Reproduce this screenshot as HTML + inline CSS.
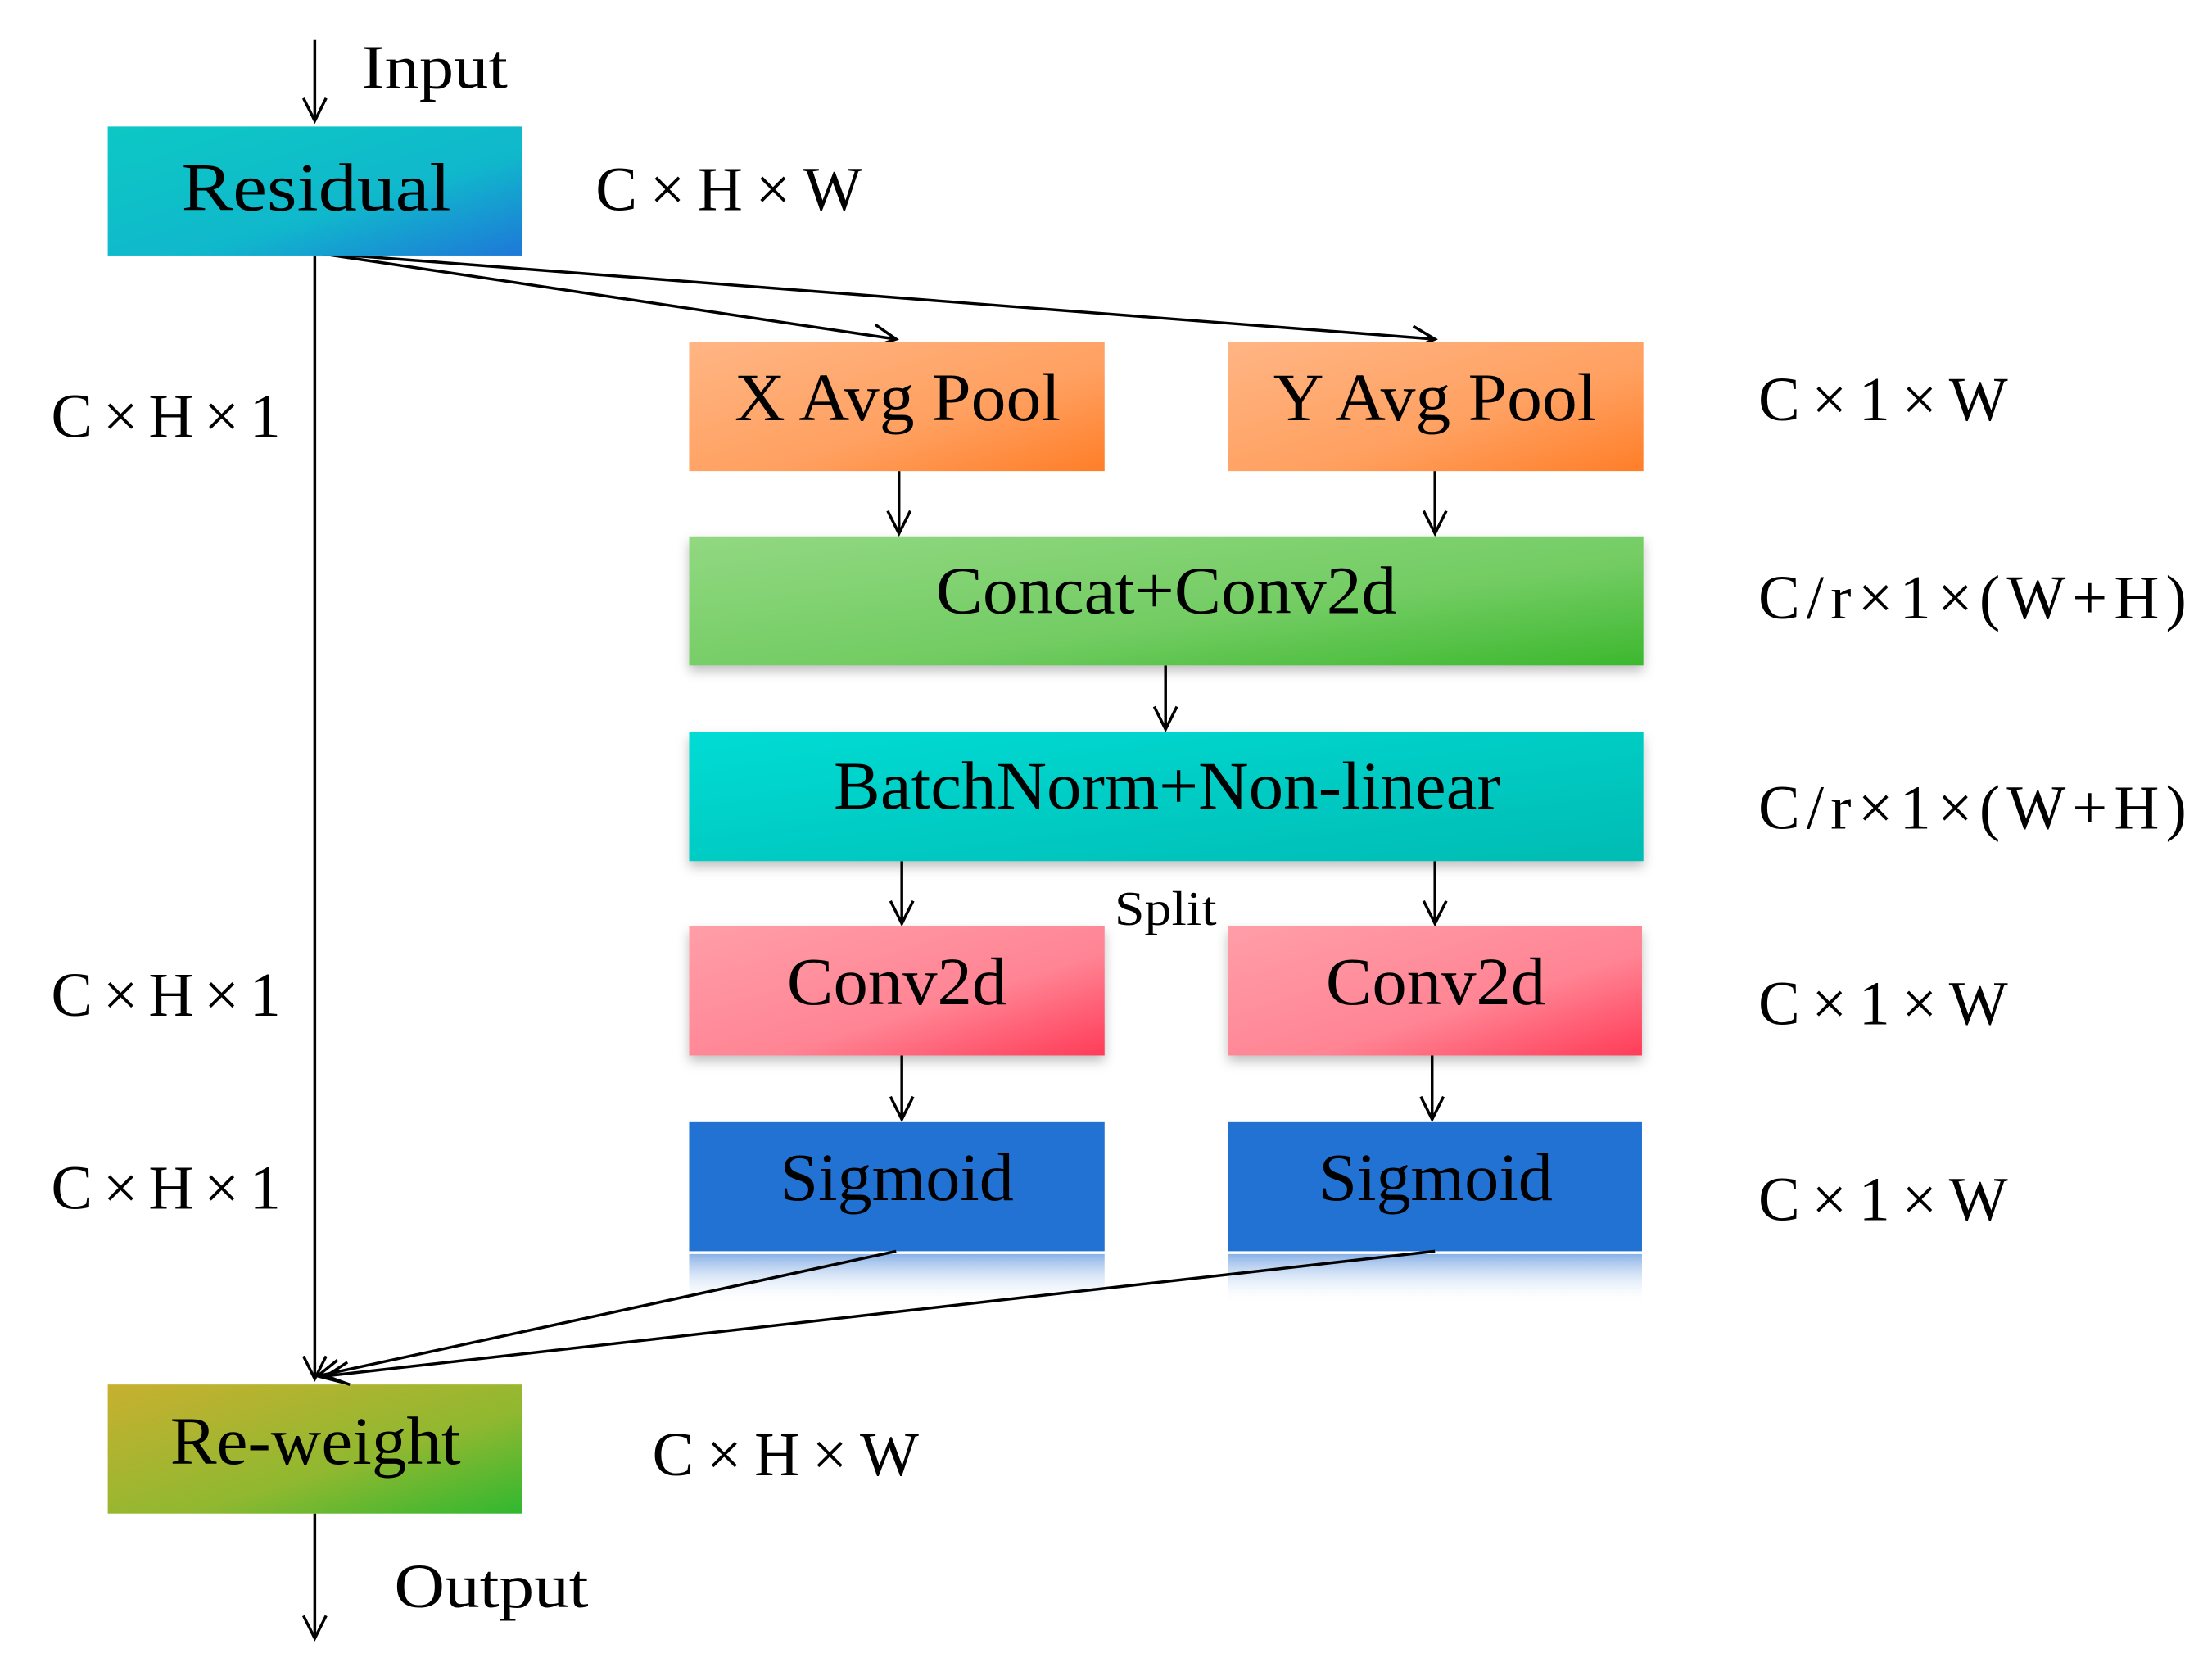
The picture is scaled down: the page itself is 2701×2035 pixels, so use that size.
<!DOCTYPE html>
<html><head><meta charset="utf-8"><style>
html,body{margin:0;padding:0;background:#fff;}
svg{display:block;}
text{font-family:"Liberation Serif",serif;fill:#000;}
</style></head><body>
<svg width="2701" height="2035" viewBox="0 0 1560 1175" xmlns="http://www.w3.org/2000/svg">
<defs>
<linearGradient id="gRes" x1="0" y1="0" x2="1" y2="1"><stop offset="0" stop-color="#0CC8C4"/><stop offset="0.6" stop-color="#10B8CC"/><stop offset="1" stop-color="#1E78D8"/></linearGradient>
<linearGradient id="gOr" x1="0" y1="0" x2="1" y2="1"><stop offset="0" stop-color="#FFB584"/><stop offset="0.6" stop-color="#FFA060"/><stop offset="1" stop-color="#FF7E28"/></linearGradient>
<linearGradient id="gGr" x1="0" y1="0" x2="1" y2="1"><stop offset="0" stop-color="#92D882"/><stop offset="0.6" stop-color="#72CC62"/><stop offset="1" stop-color="#3CB82E"/></linearGradient>
<linearGradient id="gCy" x1="0" y1="0" x2="1" y2="1"><stop offset="0" stop-color="#00DCD4"/><stop offset="1" stop-color="#00BCB4"/></linearGradient>
<linearGradient id="gPk" x1="0" y1="0" x2="1" y2="1"><stop offset="0" stop-color="#FF9EA8"/><stop offset="0.6" stop-color="#FF8494"/><stop offset="1" stop-color="#FF3C58"/></linearGradient>
<linearGradient id="gRw" x1="0" y1="0" x2="1" y2="1"><stop offset="0" stop-color="#C8B030"/><stop offset="0.6" stop-color="#90B830"/><stop offset="1" stop-color="#30B830"/></linearGradient>
<linearGradient id="gRef" x1="0" y1="0" x2="0" y2="1"><stop offset="0" stop-color="#6C9EE0" stop-opacity="0.8"/><stop offset="1" stop-color="#ffffff" stop-opacity="0"/></linearGradient>
<filter id="sh" x="-5%" y="-10%" width="110%" height="130%"><feDropShadow dx="0" dy="4" stdDeviation="4" flood-opacity="0.25"/></filter>
<marker id="ah" viewBox="0 0 20 20" refX="18" refY="10" markerWidth="20" markerHeight="20" markerUnits="userSpaceOnUse" orient="auto"><path d="M2 2 L18 10 L2 18" fill="none" stroke="#000" stroke-width="2"/></marker>
</defs>

<g stroke="#000" stroke-width="2" fill="none">
<line x1="222" y1="28" x2="222" y2="85" marker-end="url(#ah)"/>
<line x1="222" y1="180" x2="222" y2="972" marker-end="url(#ah)"/>
<line x1="222" y1="178" x2="632" y2="239" marker-end="url(#ah)"/>
<line x1="222" y1="178" x2="1012" y2="239" marker-end="url(#ah)"/>
<line x1="634" y1="332" x2="634" y2="376" marker-end="url(#ah)"/>
<line x1="1012" y1="332" x2="1012" y2="376" marker-end="url(#ah)"/>
<line x1="822" y1="469" x2="822" y2="514" marker-end="url(#ah)"/>
<line x1="636" y1="607" x2="636" y2="651" marker-end="url(#ah)"/>
<line x1="1012" y1="607" x2="1012" y2="651" marker-end="url(#ah)"/>
<line x1="636" y1="744" x2="636" y2="789" marker-end="url(#ah)"/>
<line x1="1010" y1="744" x2="1010" y2="789" marker-end="url(#ah)"/>
<line x1="222" y1="1067" x2="222" y2="1155" marker-end="url(#ah)"/>
</g>

<rect x="76" y="89" width="292" height="91" fill="url(#gRes)"/>
<rect x="486" y="241" width="293" height="91" fill="url(#gOr)"/>
<rect x="866" y="241" width="293" height="91" fill="url(#gOr)"/>
<rect x="486" y="378" width="673" height="91" fill="url(#gGr)" filter="url(#sh)"/>
<rect x="486" y="516" width="673" height="91" fill="url(#gCy)" filter="url(#sh)"/>
<rect x="486" y="653" width="293" height="91" fill="url(#gPk)" filter="url(#sh)"/>
<rect x="866" y="653" width="292" height="91" fill="url(#gPk)" filter="url(#sh)"/>
<rect x="486" y="791" width="293" height="91" fill="#2172D2"/>
<rect x="866" y="791" width="292" height="91" fill="#2172D2"/>
<rect x="486" y="884" width="293" height="36" fill="url(#gRef)"/>
<rect x="866" y="884" width="292" height="36" fill="url(#gRef)"/>
<rect x="76" y="976" width="292" height="91" fill="url(#gRw)"/>

<g stroke="#000" stroke-width="2" fill="none">
<line x1="632" y1="882" x2="224" y2="970" marker-end="url(#ah)"/>
<line x1="1012" y1="882" x2="230" y2="970" marker-end="url(#ah)"/>
</g>

<g font-size="48" lengthAdjust="spacingAndGlyphs">
<text x="128" y="148" textLength="190" lengthAdjust="spacingAndGlyphs">Residual</text>
<text x="518" y="296" textLength="230" lengthAdjust="spacingAndGlyphs">X Avg Pool</text>
<text x="898" y="296" textLength="228" lengthAdjust="spacingAndGlyphs">Y Avg Pool</text>
<text x="660" y="432" textLength="325" lengthAdjust="spacingAndGlyphs">Concat+Conv2d</text>
<text x="588" y="570" textLength="470" lengthAdjust="spacingAndGlyphs">BatchNorm+Non-linear</text>
<text x="555" y="708" textLength="155" lengthAdjust="spacingAndGlyphs">Conv2d</text>
<text x="935" y="708" textLength="155" lengthAdjust="spacingAndGlyphs">Conv2d</text>
<text x="550" y="846" textLength="165" lengthAdjust="spacingAndGlyphs">Sigmoid</text>
<text x="930" y="846" textLength="165" lengthAdjust="spacingAndGlyphs">Sigmoid</text>
<text x="120" y="1032" textLength="205" lengthAdjust="spacingAndGlyphs">Re-weight</text>
<text x="786" y="652" font-size="34" textLength="72" lengthAdjust="spacingAndGlyphs">Split</text>
</g>
<g font-size="44">
<text x="255" y="62" textLength="103" lengthAdjust="spacingAndGlyphs">Input</text>
<text x="278" y="1133" textLength="137" lengthAdjust="spacingAndGlyphs">Output</text>
<text x="420" y="148" textLength="188" lengthAdjust="spacing">C×H×W</text>
<text x="460" y="1040" textLength="188" lengthAdjust="spacing">C×H×W</text>
<text x="36" y="308" textLength="162" lengthAdjust="spacing">C×H×1</text>
<text x="36" y="716" textLength="162" lengthAdjust="spacing">C×H×1</text>
<text x="36" y="852" textLength="162" lengthAdjust="spacing">C×H×1</text>
<text x="1240" y="296" textLength="176" lengthAdjust="spacing">C×1×W</text>
<text x="1240" y="436" textLength="302" lengthAdjust="spacing">C/r×1×(W+H)</text>
<text x="1240" y="584" textLength="302" lengthAdjust="spacing">C/r×1×(W+H)</text>
<text x="1240" y="722" textLength="176" lengthAdjust="spacing">C×1×W</text>
<text x="1240" y="860" textLength="176" lengthAdjust="spacing">C×1×W</text>
</g>
</svg>
</body></html>
